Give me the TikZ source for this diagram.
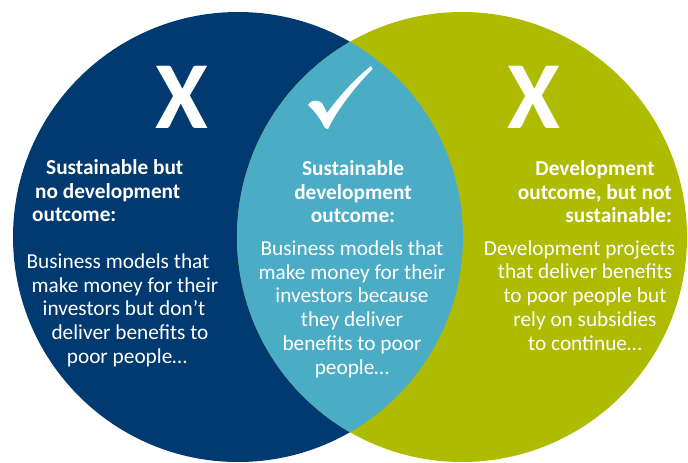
\documentclass[tikz,border=0pt]{standalone}
\usepackage{fontspec}
\setmainfont{Carlito}
\usepackage{xcolor}
\usepackage{tikz}
\usetikzlibrary{positioning}

\definecolor{navy}{RGB}{0,58,112}
\definecolor{aqua}{RGB}{75,172,198}
\definecolor{lime}{RGB}{174,187,0}

\begin{document}
\begin{tikzpicture}[x=1pt, y=-1pt,
  head/.style={text=white, inner sep=0pt, font=\bfseries\fontsize{21.3}{23.7}\selectfont},
  body/.style={text=white, inner sep=0pt, align=center, font=\fontsize{21.3}{23.7}\selectfont},
  bigx/.style={text=white, inner sep=0pt, font=\bfseries\fontsize{96}{96}\selectfont}]
\useasboundingbox (0,0) rectangle (688,463);
\coordinate (lc) at (238,237);
\coordinate (rc) at (462,237);
% the two circles, overlap painted on top
\fill[navy] (lc) circle[radius=225];
\fill[lime] (rc) circle[radius=225];
\begin{scope}
  \clip (lc) circle[radius=225];
  \fill[aqua] (rc) circle[radius=225];
\end{scope}
% marks
\node[bigx] (xleft) at (182,97.7) {X};
\node[bigx] (xright) at (534,97.7) {X};
\fill[white] (308,105) .. controls (310,101) and (315,100) .. (318,101) -- (322,103)
  .. controls (324,107) and (326,110) .. (327,113)
  .. controls (340,95) and (356,78) .. (371,66) -- (372.5,69)
  .. controls (356,86) and (338,108) .. (328,129) -- (325,128)
  .. controls (321,120) and (315,111) .. cycle;
% headings (base = last line)
\node[head, align=left, anchor=base west] (lhead) at (32,221.7)
  {\hspace*{14pt}Sustainable but\\\hspace*{3pt}no development\\outcome:};
\node[head, align=center, anchor=base] (mhead) at (353,222.7)
  {Sustainable\\development\\outcome:};
\node[head, align=right, anchor=base east] (rhead) at (672,222.7)
  {Development\hspace*{17pt}\\outcome, but not\hspace*{4pt}\\sustainable:};
% descriptions
\node[body, anchor=base] (lbody) at (124,363.3)
  {Business models that\hspace*{12pt}\\\hspace*{2pt}make money for their\\investors but don’t\hspace*{2pt}\\
   \hspace*{12pt}deliver benefits to\\\hspace*{6pt}poor people…};
\node[body, anchor=base] (mbody) at (352,374)
  {Business models that\\make money for their\\investors because\\they deliver\\benefits to poor\\people…};
\node[body, anchor=base] (rbody) at (585,350)
  {Development projects\hspace*{11pt}\\that deliver benefits\\to poor people but\\rely on subsidies\\to continue…};
\end{tikzpicture}
\end{document}
